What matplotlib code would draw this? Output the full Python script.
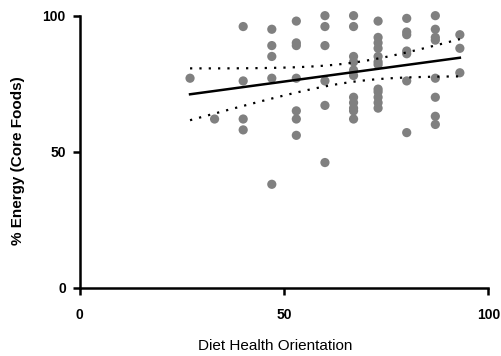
import numpy as np
import matplotlib.pyplot as plt

# Diet Health Orientation score and % energy from core foods
dho = [27,
       33,
       40, 40, 40, 40,
       47, 47, 47, 47, 47,
       53, 53, 53, 53, 53, 53, 53,
       60, 60, 60, 60, 60, 60,
       67, 67, 67, 67, 67, 67, 67, 67, 67, 67, 67,
       73, 73, 73, 73, 73, 73, 73, 73, 73, 73, 73, 73,
       80, 80, 80, 80, 80, 80, 80,
       87, 87, 87, 87, 87, 87, 87, 87,
       93, 93, 93]
energy = [77,
          62,
          96, 76, 62, 58,
          95, 89, 85, 77, 38,
          98, 90, 89, 77, 65, 62, 56,
          100, 96, 89, 76, 67, 46,
          100, 96, 85, 83, 80, 78, 70, 68, 66, 65, 62,
          98, 92, 90, 88, 85, 83, 82, 73, 72, 70, 68, 66,
          99, 94, 93, 87, 86, 76, 57,
          100, 95, 92, 91, 77, 70, 63, 60,
          93, 88, 79]

x = np.array(dho, dtype=float)
y = np.array(energy, dtype=float)

# linear fit with 95% confidence band
slope, icpt = np.polyfit(x, y, 1)
n = len(x)
resid = y - (slope * x + icpt)
s = np.sqrt(np.sum(resid ** 2) / (n - 2))
xs = np.linspace(x.min(), x.max(), 100)
fit = slope * xs + icpt
se = s * np.sqrt(1 / n + (xs - x.mean()) ** 2 / np.sum((x - x.mean()) ** 2))
t = 2.0  # ~t(0.975, 63)

plt.rcParams['font.family'] = ['Liberation Sans', 'DejaVu Sans']

fig = plt.figure(figsize=(5.01, 3.56), dpi=100)
ax = fig.add_axes([0.159, 0.192, 0.816, 0.764])

ax.scatter(x, y, s=44, color='#808080', edgecolors='none', zorder=3, clip_on=False)
ax.plot(xs, fit, color='black', lw=1.8, zorder=4)
ax.plot(xs, fit + t * se, color='black', lw=1.6, ls=(0, (1, 3.2)), zorder=4)
ax.plot(xs, fit - t * se, color='black', lw=1.6, ls=(0, (1, 3.2)), zorder=4)

ax.set_xlim(0, 100)
ax.set_ylim(0, 100)
ax.set_xticks([0, 50, 100])
ax.set_yticks([0, 50, 100])

for side in ['top', 'right']:
    ax.spines[side].set_visible(False)
for side in ['left', 'bottom']:
    ax.spines[side].set_linewidth(1.8)
ax.tick_params(width=1.8, length=5, labelsize=10, pad=5)
ax.tick_params(axis='x', pad=10)
for lab in ax.get_xticklabels() + ax.get_yticklabels():
    lab.set_fontweight('bold')

ax.set_xlabel('Diet Health Orientation', fontsize=11)
ax.set_ylabel('% Energy (Core Foods)', fontsize=11, fontweight='bold')
ax.xaxis.set_label_coords(0.478, -0.188)
ax.yaxis.set_label_coords(-0.133, 0.466)

fig.savefig('out.png', dpi=100)
